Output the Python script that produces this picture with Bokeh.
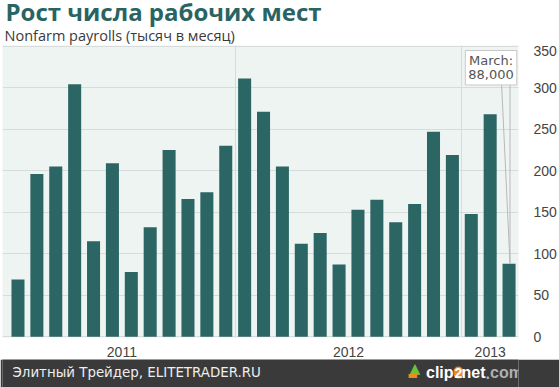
from bokeh.plotting import figure
from bokeh.layouts import column
from bokeh.models import Range1d, FixedTicker, Label
from bokeh.embed import file_html
from bokeh.resources import INLINE

# ---- data -------------------------------------------------------------
months = ["Jan 2011", "Feb 2011", "Mar 2011", "Apr 2011", "May 2011", "Jun 2011",
          "Jul 2011", "Aug 2011", "Sep 2011", "Oct 2011", "Nov 2011", "Dec 2011",
          "Jan 2012", "Feb 2012", "Mar 2012", "Apr 2012", "May 2012", "Jun 2012",
          "Jul 2012", "Aug 2012", "Sep 2012", "Oct 2012", "Nov 2012", "Dec 2012",
          "Jan 2013", "Feb 2013", "Mar 2013"]
payrolls = [69, 196, 205, 304, 115, 209, 78, 132, 225, 166, 174, 230,
            311, 271, 205, 112, 125, 87, 153, 165, 138, 160, 247, 219,
            148, 268, 88]
years = ["2011", "2012", "2013"]
months_per_year = [12, 12, 3]
y_ticks = [0, 50, 100, 150, 200, 250, 300, 350]

title_text = "Рост числа рабочих мест"
subtitle_text = "Nonfarm payrolls (тысяч в месяц)"
callout_month = "March"
footer_text = "Элитный Трейдер, ELITETRADER.RU"

# ---- styles -----------------------------------------------------------
W = 559
BAR = "#2b6665"
BG = "#eef4f1"
GRID = "#d5dcd9"
FOOT_BG = "#3a3a3a"
AXFONT = "Liberation Sans"

idx = list(range(len(payrolls)))
year_mid, year_bound = [], []
start = 0
for n in months_per_year:
    year_mid.append(start + (n - 1) / 2)
    if start + n < len(payrolls):
        year_bound.append(start + n - 0.5)
    start += n


def blank(height, bg):
    f = figure(width=W, height=height, x_range=Range1d(0, 1), y_range=Range1d(0, 1),
               x_axis_type=None, y_axis_type=None, min_border=0,
               output_backend="svg", toolbar_location=None,
               background_fill_color=bg, border_fill_color=bg)
    f.outline_line_color = None
    return f


def txt(fig, x, y, text, font, size, color, bold=False, **kw):
    fig.add_layout(Label(x=x, y=y, x_units="screen", y_units="screen",
                         text=text, text_font=font, text_font_size=size,
                         text_font_style="bold" if bold else "normal",
                         text_color=color, text_baseline="middle", **kw))


# ---- header (45 px) ---------------------------------------------------
head = blank(45, "white")
txt(head, 3, 34.3, title_text, "Open Sans", "24px", "#2a6462", bold=True)
txt(head, 2, 9.6, subtitle_text, "Open Sans", "14.5px", "#3a3a3a")

# ---- main chart -------------------------------------------------------
y0, y1 = -0.84, 350.76
p = figure(width=W, height=314,
           x_range=Range1d(-0.82, len(payrolls) - 0.5),
           y_range=Range1d(y0, y1),
           y_axis_location="right",
           output_backend="svg", toolbar_location=None,
           min_border_left=2, min_border_right=39,
           min_border_top=0, min_border_bottom=21,
           background_fill_color=BG, border_fill_color="white")
p.outline_line_color = None

p.vbar(x=idx, top=payrolls, width=0.69, fill_color=BAR, line_color=None)

p.xaxis.ticker = FixedTicker(ticks=year_mid)
p.xaxis.major_label_overrides = {m: y for m, y in zip(year_mid, years)}
p.xaxis.axis_line_color = None
p.xaxis.major_tick_line_color = None
p.xaxis.minor_tick_line_color = None
p.xaxis.major_label_standoff = 3
p.xaxis.major_label_text_font = AXFONT
p.xaxis.major_label_text_font_size = "14px"
p.xaxis.major_label_text_color = "#444444"

p.yaxis.ticker = FixedTicker(ticks=y_ticks)
p.yaxis.axis_line_color = None
p.yaxis.major_tick_line_color = None
p.yaxis.minor_tick_line_color = None
p.yaxis.major_label_standoff = 9
p.yaxis.major_label_text_font = AXFONT
p.yaxis.major_label_text_font_size = "14px"
p.yaxis.major_label_text_color = "#444444"

p.xgrid.ticker = FixedTicker(ticks=year_bound)
p.xgrid.grid_line_color = GRID
p.ygrid.ticker = FixedTicker(ticks=y_ticks)
p.ygrid.grid_line_color = GRID

# callout for the last value
last_i, last_v = idx[-1], payrolls[-1]
px_per_unit = 293 / (y1 - y0)
rise = 182 / px_per_unit
p.segment(x0=[last_i - 0.40, last_i + 0.05], y0=[last_v + rise, last_v + rise],
          x1=[last_i + 0.05, last_i + 0.05], y1=[last_v, last_v],
          line_color="#b8b8b8", line_width=1)
p.add_layout(Label(x=last_i, y=last_v, x_offset=-18, y_offset=196,
                   text=f"{callout_month}:\n{last_v * 1000:,}",
                   text_align="center", text_baseline="middle",
                   text_font="DejaVu Sans", text_font_size="13px",
                   text_color="#555555", text_line_height=0.9,
                   background_fill_color="white",
                   border_line_color="#c8c8c8", padding=3))

# ---- footer (28 px) ---------------------------------------------------
foot = blank(28, FOOT_BG)
txt(foot, 10, 14.6, footer_text, "DejaVu Sans", "13.4px", "#eeeeee")
txt(foot, 407, 20, "▲", "DejaVu Sans", "14px", "#6cc33a")
txt(foot, 405, 12, "▬", "DejaVu Sans", "11px", "#f08a1c")
txt(foot, 423.5, 14.6, "clip", "Liberation Sans", "16px", "white", bold=True)
txt(foot, 451, 14.9, "2", "Liberation Sans", "14px", "white", bold=True,
    background_fill_color="#f08a1c", border_radius=6, padding=1)
txt(foot, 459, 14.6, "net", "Liberation Sans", "16px", "white", bold=True)
txt(foot, 483, 14.6, ".", "Liberation Sans", "16px", "#b0b0b0", bold=True)
txt(foot, 487.5, 14.6, "com", "Liberation Sans", "16px", "#b0b0b0", bold=True)

layout = column(head, p, foot, spacing=0)
open("out.html", "w").write(file_html(layout, INLINE))
